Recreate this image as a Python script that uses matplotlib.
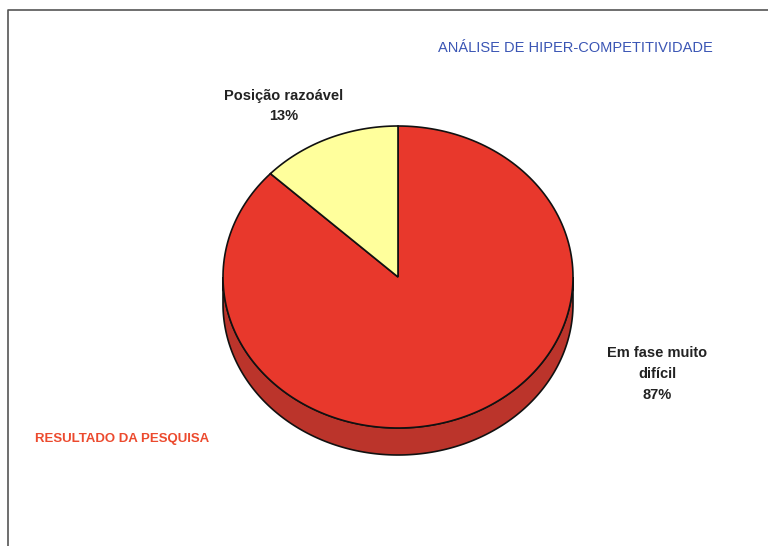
import matplotlib
matplotlib.use('Agg')
import matplotlib.pyplot as plt
import numpy as np
from matplotlib.patches import Polygon

#------------------------------------------------------------------------------#

plt.rc('font', family=['Liberation Sans', 'DejaVu Sans'])

labels = ['Em fase muito\ndifícil', 'Posição razoável']
shares = [87, 13]
colors = ['#e8382c', '#ffff9c']
side_colors = ['#bb342b', '#c8c870']

title = 'ANÁLISE DE HIPER-COMPETITIVIDADE'
note = 'RESULTADO DA PESQUISA'

# pie geometry in pixel units of the canvas
cx, cy = 398, 277
rx, ry = 175, 151
depth = 27

#------------------------------------------------------------------------------#

def arc(t0, t1, dy=0, n=200):
    t = np.radians(np.linspace(t0, t1, n))
    return np.column_stack([cx + rx*np.cos(t), cy - ry*np.sin(t) + dy])

#------------------------------------------------------------------------------#

def main():

    fig = plt.figure(figsize=(7.68, 5.46), dpi=100)
    ax = fig.add_axes([0, 0, 1, 1])
    ax.set_xlim(0, 768)
    ax.set_ylim(546, 0)
    ax.axis('off')

    # frame around the chart area
    ax.plot([8, 8, 768], [546, 10, 10], color='#555555', lw=1.2)

    # slice angles, clockwise from 12 o'clock
    frac = np.array(shares) / np.sum(shares)
    ends = 90 - 360*np.cumsum(frac)
    starts = np.concatenate([[90], ends[:-1]])

    # rim of the lower half (only the visible front)
    for s, e, sc in zip(starts, ends, side_colors):
        lo, hi = max(e, -180), min(s, 0)
        if lo < hi:
            top = arc(hi, lo)
            bot = arc(lo, hi, depth)
            ax.add_patch(Polygon(np.vstack([top, bot]), closed=True,
                                 fc=sc, ec='#111111', lw=1.2, zorder=2))

    # top faces
    for s, e, c in zip(starts, ends, colors):
        pts = np.vstack([[cx, cy], arc(s, e), [cx, cy]])
        ax.add_patch(Polygon(pts, closed=True, fc=c, ec='#111111',
                             lw=1.2, zorder=3))

    # labels
    ax.text(657, 374, labels[0] + '\n' + str(shares[0]) + '%',
            ha='center', va='center', fontsize=10.5, fontweight='bold',
            color='#222222', linespacing=1.62)
    ax.text(284, 106, labels[1] + '\n' + str(shares[1]) + '%',
            ha='center', va='center', fontsize=10.5, fontweight='bold',
            color='#222222', linespacing=1.6)

    ax.text(575, 48, title, ha='center', va='center', fontsize=10.5,
            color='#3a55b4')
    ax.text(35, 439, note, ha='left', va='center', fontsize=9.5,
            fontweight='bold', color='#ec4a2e')

    fig.savefig('out.png', dpi=100)

#------------------------------------------------------------------------------#

if __name__ == "__main__":
    main()
